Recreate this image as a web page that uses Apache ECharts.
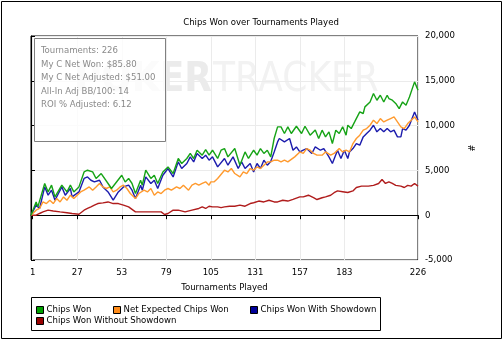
<!DOCTYPE html>
<html>
<head>
<meta charset="utf-8">
<script src="https://cdn.jsdelivr.net/npm/echarts@6/dist/echarts.min.js"></script>
<style>
html,body{margin:0;padding:0;background:#fff;}
#c{width:503px;height:339px;}
</style>
</head>
<body>
<div id="c"></div>
<script>
const titleText = 'Chips Won over Tournaments Played';
const xTicks = [1, 27, 53, 79, 105, 131, 157, 183, 226];
const seriesNames = ['Chips Won', 'Net Expected Chips Won', 'Chips Won With Showdown', 'Chips Won Without Showdown'];
const infoLines = ['Tournaments: 226', 'My C Net Won: $85.80', 'My C Net Adjusted: $51.00', 'All-In Adj BB/100: 14', 'ROI % Adjusted: 6.12'];

const chipsWon = [[0,0],[3,1480],[4,930],[8,3540],[10,2600],[12,3350],[14,2040],[18,3350],[21,2600],[23,3350],[25,2600],[28,3160],[31,4830],[33,5020],[36,4830],[38,4100],[41,4650],[45,3540],[47,2980],[53,4460],[55,3700],[57,4100],[59,3540],[61,2420],[64,3900],[65,3350],[67,5020],[70,4100],[72,4460],[74,3540],[77,4830],[80,5390],[83,4650],[86,6330],[88,5770],[91,6330],[93,6890],[95,6330],[97,7250],[100,6700],[102,7330],[104,6700],[106,7250],[109,6330],[111,7250],[113,7440],[115,6510],[119,7440],[122,5580],[125,7060],[127,6330],[130,7250],[132,6700],[134,7440],[136,6890],[138,7250],[140,6510],[142,8560],[144,9860],[146,9860],[148,9120],[150,9860],[152,9120],[155,9930],[158,9120],[160,9930],[163,8930],[166,9500],[168,8560],[170,9490],[172,8740],[174,9300],[176,8000],[178,9490],[180,9120],[182,9860],[184,8930],[185,10040],[187,9670],[189,10410],[192,11530],[194,11350],[195,12090],[198,12640],[200,13580],[202,12830],[204,13390],[206,12640],[208,13390],[209,13020],[211,12830],[213,12470],[215,11900],[217,12640],[219,12280],[221,13200],[224,14880],[226,13950]];

const netExpected = [[0,0],[3,560],[5,750],[7,1480],[9,1300],[11,1670],[13,1300],[15,1860],[17,1480],[19,2040],[21,1670],[23,2230],[25,1860],[27,2230],[29,2600],[31,2790],[34,3160],[36,2790],[38,3160],[40,3540],[42,3160],[44,2980],[46,3160],[48,2600],[50,2790],[52,3160],[54,3350],[56,2980],[58,2420],[61,1860],[63,2420],[66,2790],[68,2600],[70,2980],[72,2230],[74,2600],[76,2420],[78,2790],[80,2980],[82,2790],[85,3160],[87,2980],[89,3350],[92,2790],[94,3350],[96,3540],[98,3350],[100,3540],[102,3720],[104,3350],[105,3720],[107,3720],[109,4100],[110,3900],[113,5020],[115,4830],[117,5210],[119,4650],[122,4270],[124,4830],[126,4650],[128,5210],[130,5020],[132,5390],[134,5210],[136,5580],[138,5950],[140,5950],[142,6140],[144,6140],[146,5950],[148,6140],[150,5950],[151,5770],[154,6510],[157,7060],[159,6890],[161,7440],[163,7250],[165,6890],[167,6700],[170,6700],[172,7060],[175,6700],[177,6890],[180,7440],[182,7060],[184,7250],[186,7060],[188,8000],[190,8560],[192,8930],[194,9490],[196,9670],[198,10040],[200,10600],[202,10230],[204,10790],[206,10410],[208,10600],[210,10790],[212,10970],[214,10410],[216,9860],[218,9670],[220,10230],[222,10600],[224,10970],[226,10410]];

const withShowdown = [[0,0],[3,1120],[5,750],[8,3160],[10,2230],[12,2790],[14,1670],[18,3160],[20,2230],[23,2980],[24,2040],[28,2600],[31,4100],[33,4270],[35,3900],[37,3720],[40,3900],[42,3160],[45,2600],[48,1670],[51,2600],[54,3160],[55,2980],[57,3350],[59,2790],[61,1860],[64,3350],[65,2790],[67,4270],[70,3540],[72,3900],[74,2980],[77,4460],[80,5210],[83,4270],[86,5950],[88,5210],[91,5770],[93,6510],[95,5950],[97,6890],[100,6330],[102,6700],[104,6140],[106,6510],[109,5390],[110,5580],[113,6330],[115,5580],[118,6510],[121,5210],[123,5950],[125,5210],[128,5770],[130,4830],[132,5770],[134,5210],[136,6140],[138,5580],[140,6000],[142,7060],[144,8180],[145,8560],[148,8180],[151,8560],[153,7250],[155,7620],[157,7060],[159,7250],[161,7440],[164,6890],[166,7620],[169,7250],[171,7440],[174,6510],[176,5770],[179,7250],[181,6330],[183,7250],[185,6330],[186,7060],[188,7440],[190,8000],[192,7810],[194,8740],[196,9120],[198,9490],[200,10040],[202,9300],[204,9670],[206,9300],[208,9670],[210,9300],[212,9490],[214,8740],[216,8740],[217,9670],[219,9490],[221,10040],[224,11530],[226,10600]];

const withoutShowdown = [[0,0],[3,0],[5,190],[7,370],[10,560],[13,470],[17,370],[21,280],[24,190],[28,110],[31,560],[33,750],[35,930],[37,1120],[39,1300],[42,1370],[45,1480],[48,1300],[51,1300],[54,1120],[55,1300],[57,930],[61,370],[64,370],[67,370],[68,560],[71,370],[76,370],[78,80],[80,190],[83,560],[86,560],[90,370],[94,560],[98,750],[100,930],[102,750],[104,1000],[106,930],[109,930],[111,840],[113,930],[116,1000],[119,1000],[122,1120],[125,1000],[128,1300],[130,1390],[133,1580],[136,1480],[139,1670],[142,1480],[144,1480],[147,1670],[150,1580],[153,1770],[157,2040],[159,2040],[162,2230],[165,1950],[167,1750],[170,1950],[172,2040],[175,2230],[177,2510],[179,2710],[182,2620],[185,2530],[188,2710],[190,3090],[193,3240],[197,3240],[200,3330],[203,3540],[205,3980],[207,3540],[209,3720],[211,3540],[213,3330],[216,3240],[218,3090],[220,3330],[222,3240],[224,3540],[226,3240]];

const lineColors = ['#16a316', '#ff9a2e', '#1c1cad', '#b01c1c'];
const legendColors = ['#00a000', '#ff8c1a', '#000099', '#990000'];
const seriesData = [chipsWon, netExpected, withShowdown, withoutShowdown];

const ctx = document.createElement('canvas').getContext('2d');
function measure(font, s) { ctx.font = font; return ctx.measureText(s).width; }
function available(f) {
  const s = 'Chips Won over Tournaments Played 0123456789';
  return measure('40px monospace', s) !== measure("40px '" + f + "', monospace", s);
}
const candidates = ['Liberation Sans Narrow', 'DejaVu Sans Condensed', 'Roboto Condensed', 'Noto Sans Condensed', 'Liberation Sans'];
let fam = 'Liberation Sans';
for (const f of candidates) { if (available(f)) { fam = f; break; } }
const FONT = "'" + fam + "', Arial, sans-serif";
const tw = measure("11px " + FONT, titleText);
const FS = Math.max(9, Math.min(11, Math.round(11 * 156 / tw * 2) / 2));
const ww = measure("43px " + FONT, 'TRACKER');
const WFS = Math.round(43 * 164 / ww);

const chart = echarts.init(document.getElementById('c'), null, {renderer: 'canvas'});

const legendPos = [[36, 305], [113, 305], [250, 305], [36, 316]];
const legends = seriesNames.map((n, i) => ({
  left: legendPos[i][0], top: legendPos[i][1], padding: 0,
  itemWidth: 7, itemHeight: 7, icon: 'rect',
  itemStyle: {borderColor: '#000', borderWidth: 1},
  textStyle: {fontFamily: FONT, fontSize: FS, color: '#000', padding: [0, 0, 0, -2]},
  data: [{name: n, itemStyle: {color: legendColors[i], borderColor: '#000', borderWidth: 1}}],
  selectedMode: false
}));

const infoGraphics = infoLines.map((t, i) => ({
  type: 'text', x: 41, y: 50.7 + i * 13.5, z: 5, silent: true,
  style: {text: t, fill: '#8a8a8a', font: FS + 'px ' + FONT, textVerticalAlign: 'middle'}
}));

chart.setOption({
  animation: false,
  title: {
    text: titleText, left: 256, top: 13, textAlign: 'center',
    textStyle: {fontFamily: FONT, fontSize: FS, fontWeight: 'normal', color: '#000'}
  },
  legend: legends,
  grid: {left: 31, right: 85, top: 36, bottom: 79, show: true, borderColor: '#000', borderWidth: 1, backgroundColor: 'transparent'},
  xAxis: {
    type: 'value', min: 0, max: 226,
    name: 'Tournaments Played', nameLocation: 'middle', nameGap: 21,
    nameTextStyle: {fontFamily: FONT, fontSize: FS, color: '#000'},
    axisLine: {show: true, lineStyle: {color: '#000'}},
    axisTick: {show: true, length: 4, customValues: xTicks, lineStyle: {color: '#000'}},
    axisLabel: {customValues: xTicks, fontFamily: FONT, fontSize: FS, color: '#000', margin: 8},
    splitLine: {show: true, lineStyle: {color: '#ebebeb', width: 1}}
  },
  yAxis: {
    type: 'value', min: -5000, max: 20000, interval: 5000, position: 'right',
    name: '#', nameLocation: 'middle', nameGap: 38, nameRotate: -90,
    nameTextStyle: {fontFamily: FONT, fontSize: FS, color: '#000'},
    axisLine: {show: true, lineStyle: {color: '#000'}},
    axisTick: {show: true, length: 4, lineStyle: {color: '#000'}},
    axisLabel: {fontFamily: FONT, fontSize: FS, color: '#000', margin: 7,
      formatter: v => v.toLocaleString('en-US')},
    splitLine: {show: true, lineStyle: {color: '#ebebeb', width: 1}}
  },
  graphic: [
    {type: 'text', x: 212, y: 101, z: -1, silent: true,
      style: {text: 'POKER', fill: '#ebebeb', font: 'bold ' + WFS + 'px ' + FONT, textAlign: 'right', textVerticalAlign: 'bottom'}},
    {type: 'text', x: 213, y: 101, z: -1, silent: true,
      style: {text: 'TRACKER', fill: '#f2f2f2', font: WFS + 'px ' + FONT, textAlign: 'left', textVerticalAlign: 'bottom'}},
    {type: 'rect', shape: {x: 34.5, y: 38.5, width: 131, height: 103}, z: 4, silent: true,
      style: {fill: 'rgba(255,255,255,0.8)', stroke: '#808080', lineWidth: 1}},
    ...infoGraphics,
    {type: 'rect', shape: {x: 31.5, y: 297.5, width: 349, height: 33}, silent: true,
      style: {fill: 'none', stroke: '#000', lineWidth: 1}},
    {type: 'rect', shape: {x: 1.5, y: 1.5, width: 500, height: 337}, silent: true,
      style: {fill: 'none', stroke: '#000', lineWidth: 1}}
  ],
  series: seriesData.map((d, i) => ({
    name: seriesNames[i], type: 'line', data: d, showSymbol: false, symbol: 'none',
    lineStyle: {color: lineColors[i], width: 1.4}, itemStyle: {color: lineColors[i]},
    z: 10 - i,
    markLine: i === 3 ? {
      silent: true, symbol: 'none', label: {show: false},
      lineStyle: {color: '#000', width: 1, type: 'solid'},
      data: [{yAxis: 0}]
    } : undefined
  }))
});
</script>
</body>
</html>
